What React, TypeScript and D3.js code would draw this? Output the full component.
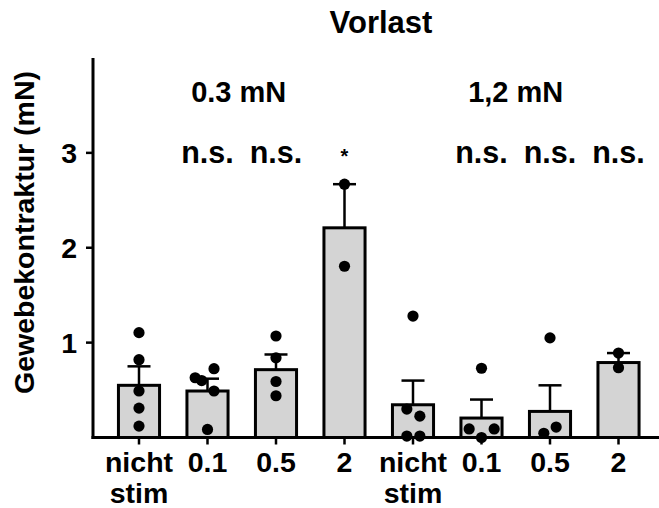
import React from "react";
import * as d3 from "d3";

const categories = ["nicht stim", "0.1", "0.5", "2", "nicht stim", "0.1", "0.5", "2"];
const means = [0.55, 0.49, 0.715, 2.21, 0.345, 0.205, 0.275, 0.79];
const sems = [0.2, 0.13, 0.16, 0.46, 0.255, 0.195, 0.275, 0.1];
const pointValues = [
  [1.105, 0.82, 0.49, 0.31, 0.12],
  [0.63, 0.6, 0.725, 0.49, 0.085],
  [1.07, 0.84, 0.59, 0.44],
  [2.67, 1.805],
  [1.28, 0.3, 0.225, 0.015, 0.015],
  [0.73, 0.09, 0.09, 0.0],
  [1.05, 0.11, 0.045],
  [0.89, 0.735],
];
const pointJitter = [
  [0, 0, 0, 0, 0],
  [-0.18, -0.085, 0.095, 0.095, 0],
  [0, 0, 0, 0],
  [0, 0],
  [0, -0.09, 0.1, -0.09, 0.1],
  [0, -0.18, 0.185, 0],
  [0, 0.09, -0.09],
  [0, 0],
];
const annotations = ["", "n.s.", "n.s.", "*", "", "n.s.", "n.s.", "n.s."];
const groupLabels = ["0.3 mN", "1,2 mN"];
const groupRanges = [[0, 3], [4, 7]];
const yTicks = [1, 2, 3];
const title = "Vorlast";
const yLabel = "Gewebekontraktur (mN)";

const W = 659;
const H = 508;
const FONT = "'Liberation Sans', Arial, Helvetica, sans-serif";

export default function App() {
  const x = d3
    .scaleBand<number>()
    .domain(categories.map((_, i) => i))
    .range([93, 664.5])
    .paddingInner(0.4)
    .paddingOuter(0.3715);
  const y = d3.scaleLinear().domain([0, 4]).range([437.5, 58]);
  const bw = x.bandwidth();
  const step = x.step();
  const cx = (i: number) => (x(i) as number) + bw / 2;
  const axisX = 93;
  const baseY = y(0);

  return (
    <svg
      width={W}
      height={H}
      style={{ position: "absolute", left: 0, top: 0, background: "#fff" }}
      fontFamily={FONT}
      fontWeight="bold"
    >
      <rect x={0} y={0} width={W} height={H} fill="#fff" />
      {/* title */}
      <text x={381} y={33} textAnchor="middle" fontSize={31}>
        {title}
      </text>
      {/* group labels */}
      {groupLabels.map((g, k) => (
        <text
          key={"g" + k}
          x={(cx(groupRanges[k][0]) + cx(groupRanges[k][1])) / 2 - (k === 0 ? 3 : 0)}
          y={102}
          textAnchor="middle"
          fontSize={29}
        >
          {g}
        </text>
      ))}
      {/* annotations */}
      {annotations.map((a, i) =>
        a ? (
          <text
            key={"a" + i}
            x={cx(i)}
            y={163}
            textAnchor="middle"
            fontSize={a === "*" ? 20 : 30.5}
          >
            {a}
          </text>
        ) : null
      )}
      {/* bars */}
      {means.map((m, i) => (
        <rect
          key={"b" + i}
          x={x(i)}
          y={y(m)}
          width={bw}
          height={baseY - y(m)}
          fill="#d4d4d4"
          stroke="#000"
          strokeWidth={3}
        />
      ))}
      {/* error bars */}
      {means.map((m, i) => (
        <g key={"e" + i} stroke="#000" strokeWidth={2.5}>
          <line x1={cx(i)} x2={cx(i)} y1={y(m)} y2={y(m + sems[i])} />
          <line x1={cx(i) - 11.5} x2={cx(i) + 11.5} y1={y(m + sems[i])} y2={y(m + sems[i])} />
        </g>
      ))}
      {/* axes */}
      <line x1={axisX} x2={axisX} y1={y(4)} y2={baseY + 1.5} stroke="#000" strokeWidth={3} />
      <line x1={axisX - 1.5} x2={W} y1={baseY} y2={baseY} stroke="#000" strokeWidth={3} />
      {yTicks.map((t) => (
        <g key={"yt" + t}>
          <line x1={axisX - 7} x2={axisX} y1={y(t)} y2={y(t)} stroke="#000" strokeWidth={2.5} />
          <text x={77} y={y(t) + 10} textAnchor="end" fontSize={28.5}>
            {t}
          </text>
        </g>
      ))}
      {categories.map((c, i) => {
        const parts = c.split(" ");
        return (
          <g key={"xt" + i}>
            <line x1={cx(i)} x2={cx(i)} y1={baseY} y2={baseY + 7} stroke="#000" strokeWidth={2.5} />
            {parts.map((p, k) => (
              <text key={k} x={cx(i)} y={472 + k * 30.5} textAnchor="middle" fontSize={28.5}>
                {p}
              </text>
            ))}
          </g>
        );
      })}
      {/* points */}
      {pointValues.map((vals, i) =>
        vals.map((v, k) => (
          <circle
            key={"p" + i + "-" + k}
            cx={cx(i) + pointJitter[i][k] * step}
            cy={y(v)}
            r={5.6}
            fill="#000"
          />
        ))
      )}
      {/* y label */}
      <text
        transform={`translate(34, 232.5) rotate(-90)`}
        textAnchor="middle"
        fontSize={28.5}
      >
        {yLabel}
      </text>
    </svg>
  );
}
